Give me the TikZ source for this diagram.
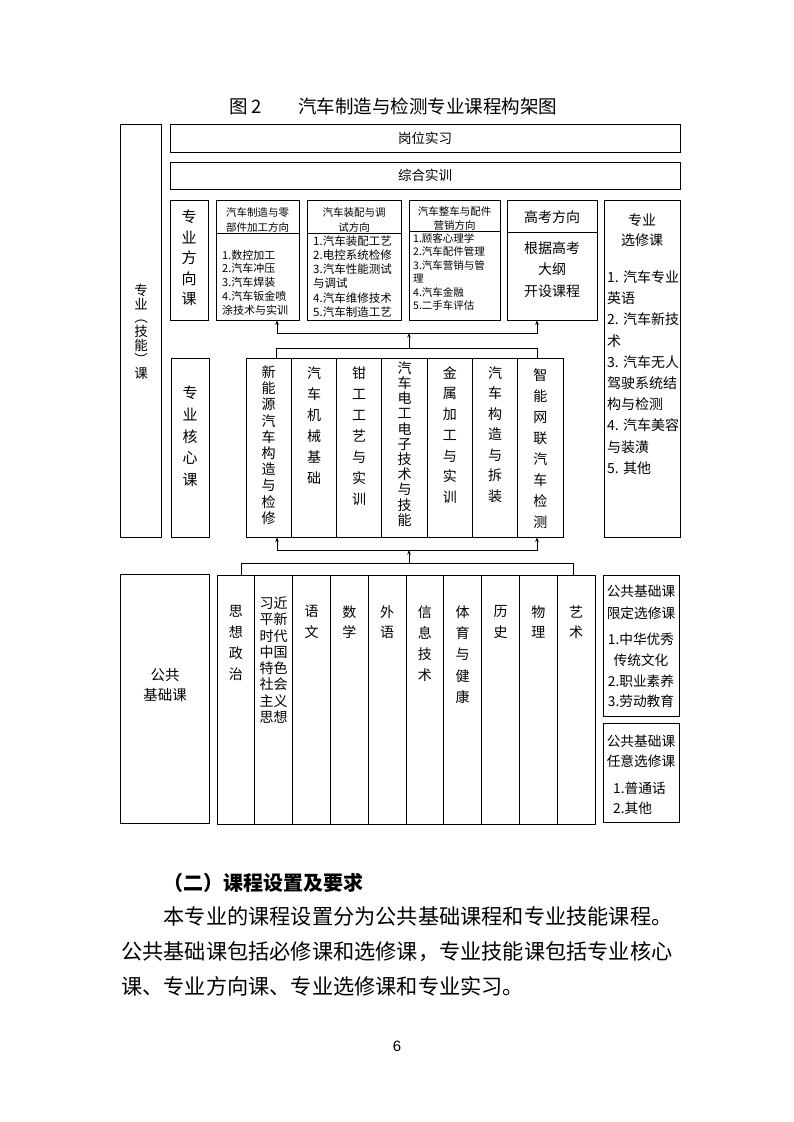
\documentclass[tikz,border=0pt]{standalone}
\usepackage{fontspec}
\setmainfont{Noto Sans CJK SC}
\newfontfamily\pagefont{Liberation Sans}
\usetikzlibrary{fit,arrows.meta}
\newcommand\fs[2]{\fontsize{#1pt}{#2pt}\selectfont\lineskiplimit=-8pt\relax}
\begin{document}
\begin{tikzpicture}[x=1pt,y=-1pt,
  box/.style={draw, line width=0.9pt, inner sep=0pt},
  txt/.style={inner sep=0pt, align=center},
  ltxt/.style={inner sep=0pt, align=left, anchor=west},
  ln/.style={line width=0.9pt},
  arr/.style={line width=0.9pt, -{Stealth[length=4.5pt,width=3.5pt]}},
  arrb/.style={line width=0.9pt, {Stealth[length=4.5pt,width=3.5pt]}-{Stealth[length=4.5pt,width=3.5pt]}},
  sep/.style={line width=0.9pt}]
\useasboundingbox (0,0) rectangle (793,1122);
\fill[white] (0,0) rectangle (793,1122);

% title
\node[txt, anchor=west, font=\fs{18.5}{20}] (title) at (229,106) {\makebox[69pt][l]{图 2}汽车制造与检测专业课程构架图};

% left big box
\node[box, fit={(120,124) (161,537)}] (zy) {};
\node[txt, font=\fs{13.5}{13.8}] (tzy) at (141,331.5) {专\\业\\︵\\技\\能\\︶\\课};

% top rows
\node[box, fit={(170,124) (680,152)}] (gw) {};
\node[txt, font=\fs{13.5}{16}] (tgw) at (gw.center) {岗位实习};
\node[box, fit={(170,162) (680,189)}] (zh) {};
\node[txt, font=\fs{13.5}{16}] (tzh) at (zh.center) {综合实训};

% direction row
\node[box, fit={(170,200) (208,320)}] (fx) {};
\node[txt, font=\fs{15}{20.5}] (tfx) at (189,258) {专\\业\\方\\向\\课};

\node[box, fit={(216,200) (299,320)}] (d1) {};
\draw[sep] ([yshift=-34pt]d1.north west) -- ([yshift=-34pt]d1.north east);
\node[txt, font=\fs{10.5}{15}] (h1) at (257.5,219.5) {汽车制造与零\\部件加工方向};
\node[ltxt, font=\fs{11}{13.75}] (l1) at (222,282.5) {1.数控加工\\2.汽车冲压\\3.汽车焊装\\4.汽车钣金喷\\涂技术与实训};

\node[box, fit={(307,200) (401,320)}] (d2) {};
\draw[sep] ([yshift=-34pt]d2.north west) -- ([yshift=-34pt]d2.north east);
\node[txt, font=\fs{10.5}{15}] (h2) at (354,219.5) {汽车装配与调\\试方向};
\node[ltxt, font=\fs{11.5}{14.1}] (l2) at (313,276.5) {1.汽车装配工艺\\2.电控系统检修\\3.汽车性能测试\\与调试\\4.汽车维修技术\\5.汽车制造工艺};

\node[box, fit={(409,200) (500,320)}] (d3) {};
\draw[sep] ([yshift=-32pt]d3.north west) -- ([yshift=-32pt]d3.north east);
\node[txt, font=\fs{10.5}{13.5}] (h3) at (454.5,218.5) {汽车整车与配件\\营销方向};
\node[ltxt, font=\fs{10.5}{13.4}] (l3) at (413,272) {1.顾客心理学\\2.汽车配件管理\\3.汽车营销与管\\理\\4.汽车金融\\5.二手车评估};

\node[box, fit={(507,200) (597,320)}] (gk) {};
\draw[sep] ([yshift=-33pt]gk.north west) -- ([yshift=-33pt]gk.north east);
\node[txt, font=\fs{14}{18}] (hgk) at (552,217) {高考方向};
\node[txt, font=\fs{14}{21.5}] (lgk) at (552,269.5) {根据高考\\大纲\\开设课程};

% major electives
\node[box, fit={(604,200) (680,537)}] (xx) {};
\node[txt, font=\fs{14}{20}] (hxx) at (642,230) {专业\\选修课};
\node[ltxt, font=\fs{14}{21.2}] (lxx) at (607,372.5) {1. 汽车专业\\英语\\2. 汽车新技\\术\\3. 汽车无人\\驾驶系统结\\构与检测\\4. 汽车美容\\与装潢\\5. 其他};

% core row
\node[box, fit={(171,358) (209,537)}] (hx) {};
\node[txt, font=\fs{15}{21.7}] (thx) at (190,436.5) {专\\业\\核\\心\\课};

\node[box, fit={(246,358) (291.3,537)}] (c1) {};
\node[box, fit={(291.3,358) (336.6,537)}] (c2) {};
\node[box, fit={(336.6,358) (381.9,537)}] (c3) {};
\node[box, fit={(381.9,358) (427.1,537)}] (c4) {};
\node[box, fit={(427.1,358) (472.4,537)}] (c5) {};
\node[box, fit={(472.4,358) (517.7,537)}] (c6) {};
\node[box, fit={(517.7,358) (563,537)}] (c7) {};
\node[txt, font=\fs{14}{16.2}] (tc1) at (268.6,445) {新\\能\\源\\汽\\车\\构\\造\\与\\检\\修};
\node[txt, font=\fs{14}{21}] (tc2) at (314,425.5) {汽\\车\\机\\械\\基\\础};
\node[txt, font=\fs{14}{21}] (tc3) at (359.2,436) {钳\\工\\工\\艺\\与\\实\\训};
\node[txt, font=\fs{14}{15.2}] (tc4) at (404.5,444) {汽\\车\\电\\工\\电\\子\\技\\术\\与\\技\\能};
\node[txt, font=\fs{14}{20.7}] (tc5) at (449.8,435) {金\\属\\加\\工\\与\\实\\训};
\node[txt, font=\fs{14}{20.5}] (tc6) at (495,434.5) {汽\\车\\构\\造\\与\\拆\\装};
\node[txt, font=\fs{14}{21}] (tc7) at (540.4,448.5) {智\\能\\网\\联\\汽\\车\\检\\测};

% connectors between direction and core
\coordinate (ka) at (276,348);
\coordinate (kb) at (537,348);
\coordinate (km) at (409,348);
\coordinate (ua) at (277,333);
\coordinate (ub) at (537,333);
\coordinate (um) at (409,333);
\draw[ln] (ka |- c1.north) -- (ka) -- (kb) -- (kb |- c7.north);
\draw[arr] (km) -- (um);
\draw[arrb] (ua |- d1.south) -- (ua) -- (ub) -- (ub |- gk.south);

% public row
\node[box, fit={(120,574) (209,823)}] (gg) {};
\node[txt, font=\fs{14.5}{20}] (tgg) at (165,685) {公共\\基础课};

\node[box, fit={(217,575) (254.8,824)}] (p1) {};
\node[box, fit={(254.8,575) (292.6,824)}] (p2) {};
\node[box, fit={(292.6,575) (330.4,824)}] (p3) {};
\node[box, fit={(330.4,575) (368.2,824)}] (p4) {};
\node[box, fit={(368.2,575) (406,824)}] (p5) {};
\node[box, fit={(406,575) (443.8,824)}] (p6) {};
\node[box, fit={(443.8,575) (481.6,824)}] (p7) {};
\node[box, fit={(481.6,575) (519.4,824)}] (p8) {};
\node[box, fit={(519.4,575) (557.2,824)}] (p9) {};
\node[box, fit={(557.2,575) (595,824)}] (p10) {};
\node[txt, font=\fs{14}{20.7}] (tp1) at (235.9,643) {思\\想\\政\\治};
\node[txt, font=\fs{14}{16.3}] (tp2) at (273.7,660) {习近\\平新\\时代\\中国\\特色\\社会\\主义\\思想};
\node[txt, font=\fs{14}{20.5}] (tp3) at (311.5,622) {语\\文};
\node[txt, font=\fs{14}{20.5}] (tp4) at (349.3,622) {数\\学};
\node[txt, font=\fs{14}{20.5}] (tp5) at (387.1,622) {外\\语};
\node[txt, font=\fs{14}{21}] (tp6) at (424.9,643.5) {信\\息\\技\\术};
\node[txt, font=\fs{14}{21.2}] (tp7) at (462.7,654.5) {体\\育\\与\\健\\康};
\node[txt, font=\fs{14}{20.5}] (tp8) at (500.5,622) {历\\史};
\node[txt, font=\fs{14}{20.5}] (tp9) at (538.3,622) {物\\理};
\node[txt, font=\fs{14}{20.5}] (tp10) at (576.1,622) {艺\\术};

% public electives
\node[box, fit={(603,575) (679,716)}] (e1) {};
\node[txt, font=\fs{13.7}{21.6}] (he1) at (641,602.5) {公共基础课\\限定选修课};
\node[txt, font=\fs{13.7}{20.9}] (le1) at (641,670.4) {1.中华优秀\\传统文化\\2.职业素养\\3.劳动教育};
\node[box, fit={(603,723) (679,822)}] (e2) {};
\node[txt, font=\fs{13.7}{20}] (he2) at (641,751.7) {公共基础课\\任意选修课};
\node[ltxt, font=\fs{13.7}{20}] (le2) at (613,798.3) {1.普通话\\2.其他};

% connectors between core and public
\coordinate (la) at (277,550);
\coordinate (lb) at (537,550);
\coordinate (lm) at (409,550);
\coordinate (pa) at (241,563);
\coordinate (pb) at (573,563);
\coordinate (pm) at (409,563);
\draw[arrb] (la |- c1.south) -- (la) -- (lb) -- (lb |- c7.south);
\draw[arr] (pm) -- (lm);
\draw[ln] (pa |- p1.north) -- (pa) -- (pb) -- (pb |- p10.north);

% text below
\node[txt, anchor=west, font=\fs{20}{24}\bfseries] (sec) at (163,883) {（二）课程设置及要求};
\node[ltxt, font=\fs{21.2}{35}] (body) at (121,951) {\hspace*{42.4pt}本专业的课程设置分为公共基础课程和专业技能课程。\\公共基础课包括必修课和选修课，专业技能课包括专业核心\\课、专业方向课、专业选修课和专业实习。};

\node[txt, font=\pagefont\fs{15}{17}] (pg) at (397,1046) {6};
\end{tikzpicture}
\end{document}
